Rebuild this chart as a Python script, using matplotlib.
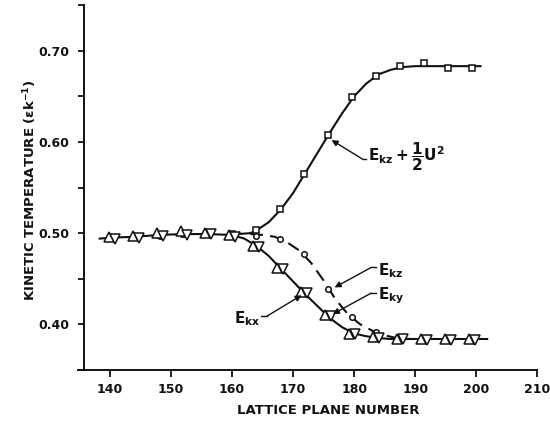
import numpy as np
import matplotlib.pyplot as plt

# Lattice planes where the temperatures were sampled
planes = [140.3, 144.2, 148.2, 152.1, 156.0, 160.0, 163.9, 167.8,
          171.8, 175.7, 179.6, 183.6, 187.5, 191.4, 195.4, 199.3]

# Kinetic temperature components (units of eps/k)
e_kx = [0.494, 0.495, 0.497, 0.498, 0.499, 0.496, 0.485, 0.461,
        0.434, 0.409, 0.389, 0.385, 0.384, 0.383, 0.383, 0.383]
e_ky = [0.496, 0.497, 0.500, 0.502, 0.500, 0.498, 0.486, 0.462,
        0.435, 0.410, 0.389, 0.386, 0.384, 0.384, 0.384, 0.384]
e_kz = [0.495, 0.496, 0.497, 0.499, 0.499, 0.498, 0.497, 0.494,
        0.477, 0.439, 0.408, 0.392, 0.385, 0.384, 0.384, 0.383]
e_kz_u2 = [0.495, 0.496, 0.498, 0.499, 0.499, 0.499, 0.503, 0.526,
           0.565, 0.607, 0.649, 0.672, 0.683, 0.686, 0.681, 0.681]

# Hand-faired curves through the points
fit_x_lo = [138.3, 140, 144, 148, 152, 156, 160, 162, 164, 166, 168, 170,
            172, 174, 176, 178, 180, 182, 184, 186, 190, 195, 201.8]
fit_y_lo = [0.494, 0.495, 0.496, 0.498, 0.499, 0.499, 0.498, 0.494, 0.486,
            0.475, 0.461, 0.447, 0.433, 0.420, 0.407, 0.397, 0.390, 0.387,
            0.385, 0.384, 0.384, 0.384, 0.384]
fit_x_hi = [161, 163, 164, 166, 168, 170, 172, 174, 176, 178, 180, 182,
            184, 186, 188, 190, 194, 200.7]
fit_y_hi = [0.499, 0.500, 0.503, 0.512, 0.526, 0.544, 0.566, 0.588, 0.610,
            0.631, 0.650, 0.664, 0.674, 0.679, 0.682, 0.683, 0.683, 0.683]
fit_x_z = [163, 165, 167, 169, 171, 173, 175, 177, 179, 181, 183, 185, 187, 189]
fit_y_z = [0.499, 0.498, 0.496, 0.490, 0.481, 0.467, 0.448, 0.427, 0.411,
           0.400, 0.393, 0.388, 0.385, 0.384]

plt.rcParams['font.family'] = 'DejaVu Sans'
plt.rcParams['mathtext.fontset'] = 'dejavusans'

ink = '#111111'
fig = plt.figure(figsize=(5.5, 4.21), dpi=100)
ax = fig.add_axes([0.1418, 0.1211, 0.835, 0.867])

ax.plot(fit_x_lo, fit_y_lo, color=ink, lw=1.5)
ax.plot(fit_x_hi, fit_y_hi, color=ink, lw=1.5)
ax.plot(fit_x_z, fit_y_z, color=ink, lw=1.5, dashes=(6, 3.5))

p = np.array(planes)
mk = dict(ls='none', mfc='white', mec=ink, mew=1.1)
ax.plot(p, e_kz_u2, marker='s', ms=4, **mk)
ax.plot(p, e_kz, marker='o', ms=4, **mk)
ax.plot(p - 0.5, e_ky, marker='^', ms=6.5, **mk)
ax.plot(p + 0.5, e_kx, marker='v', ms=6.5, **mk)

ax.set_xlim(134.75, 210)
ax.set_ylim(0.35, 0.75)
ax.spines['top'].set_visible(False)
ax.spines['right'].set_visible(False)
ax.spines['left'].set_position(('data', 135.7))
for s in ('left', 'bottom'):
    ax.spines[s].set_linewidth(1.4)
    ax.spines[s].set_color(ink)

ax.set_xticks(np.arange(140, 211, 10))
ax.set_yticks(np.arange(0.35, 0.751, 0.05))
ax.set_yticklabels(['', '0.40', '', '0.50', '', '0.60', '', '0.70', ''])
ax.tick_params(direction='out', width=1.3, color=ink, labelcolor=ink,
               labelsize=9)
ax.tick_params(axis='x', length=5, pad=4)
ax.tick_params(axis='y', length=4.5, pad=6)
for lab in ax.get_xticklabels() + ax.get_yticklabels():
    lab.set_fontweight('bold')

fig.text(328 / 550, 1 - 411 / 421, 'LATTICE PLANE NUMBER', ha='center',
         va='center', fontsize=9.5, fontweight='bold', color=ink)
fig.text(30 / 550, 1 - 190 / 421, r'KINETIC TEMPERATURE ($\mathbf{\epsilon k^{-1}}$)',
         ha='center', va='center', rotation=90, fontsize=9.5,
         fontweight='bold', color=ink)

# Curve labels with leader arrows
arrow = dict(arrowstyle='-|>', color=ink, lw=1.0, mutation_scale=9,
             shrinkA=0, shrinkB=0)
lab_kw = dict(fontsize=11, color=ink, va='center')

ax.annotate('', xy=(176.3, 0.602), xytext=(181.4, 0.581), arrowprops=arrow)
ax.plot([181.4, 182.0], [0.581, 0.581], color=ink, lw=1.0)
ax.text(182.2, 0.584, r'$\mathbf{E_{kz}+\dfrac{1}{2}U^2}$', ha='left', **lab_kw)

ax.annotate('', xy=(176.8, 0.4405), xytext=(182.8, 0.4624), arrowprops=arrow)
ax.plot([182.8, 183.6], [0.4624, 0.4624], color=ink, lw=1.0)
ax.text(183.9, 0.4584, r'$\mathbf{E_{kz}}$', ha='left', **lab_kw)

ax.annotate('', xy=(176.5, 0.4113), xytext=(182.8, 0.4343), arrowprops=arrow)
ax.plot([182.8, 183.6], [0.4343, 0.4343], color=ink, lw=1.0)
ax.text(183.9, 0.431, r'$\mathbf{E_{ky}}$', ha='left', **lab_kw)

ax.annotate('', xy=(171.4, 0.432), xytext=(165.7, 0.409), arrowprops=arrow)
ax.plot([164.7, 165.7], [0.409, 0.409], color=ink, lw=1.0)
ax.text(164.6, 0.4058, r'$\mathbf{E_{kx}}$', ha='right', **lab_kw)

fig.savefig('out.png', dpi=100)
